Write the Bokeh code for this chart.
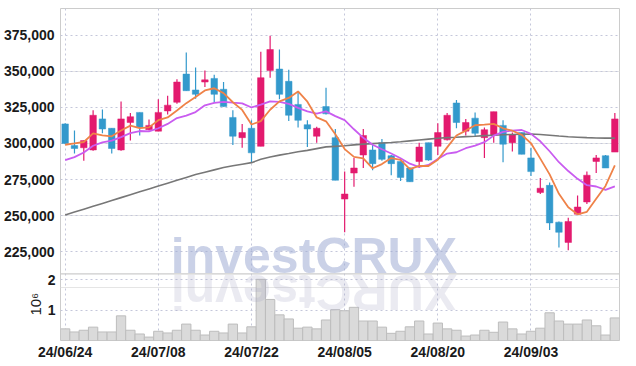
import math
from bokeh.plotting import figure
from bokeh.models import (ColumnDataSource, FixedTicker, NumeralTickFormatter, Range1d,
                          Label, Span, LinearAxis, Grid)
from bokeh.embed import file_html
from bokeh.resources import INLINE

# ---- data ----
x_tick_idx = [0, 10, 20, 30, 40, 50]
x_tick_labels = ["24/06/24", "24/07/08", "24/07/22", "24/08/05", "24/08/20", "24/09/03"]
y_ticks = [225000, 250000, 275000, 300000, 325000, 350000, 375000]
vol_ticks = [1000000, 2000000]
vol_tick_labels = ["1", "2"]
vol_unit_text = "10⁶"
vol_unit_at = 1200000

open_ = [313500, 298500, 297000, 295500, 317000, 310500, 295500, 314500, 321500, 309500,
         308500, 322500, 328500, 348000, 337000, 342500, 345000, 337500, 318000, 304000,
         310500, 298000, 350500, 351500, 343000, 327000, 313000, 305000, 325500, 304000,
         261500, 279500, 292000, 295500, 300500, 291500, 287500, 283000, 287500, 300500,
         298000, 302500, 328000, 308500, 317500, 304000, 305500, 312500, 300500, 307500,
         290000, 266000, 271000, 245500, 231500, 251000, 259500, 287500, 291500, 294000]
high = [314000, 309000, 302000, 323000, 323500, 310500, 329000, 321000, 321500, 316500,
        330500, 333000, 344500, 363000, 352500, 350500, 347500, 342500, 323000, 313500,
        316000, 363500, 374500, 365000, 351000, 335000, 316000, 311500, 338500, 310000,
        280500, 290000, 310000, 299000, 303000, 292000, 287500, 283500, 300500, 300500,
        314000, 321000, 330000, 317000, 321500, 311000, 322000, 316000, 307500, 307500,
        297000, 276000, 273000, 246000, 248500, 264000, 280500, 292000, 292000, 321000]
low = [299500, 293000, 288000, 295000, 307000, 293000, 295000, 302000, 305500, 309000,
       308500, 320000, 327500, 336500, 331000, 339000, 328500, 325500, 299000, 297000,
       286500, 298000, 345500, 330500, 315500, 311000, 297500, 300500, 320000, 274500,
       238500, 270000, 283000, 281500, 288000, 278000, 274000, 273500, 283000, 288000,
       292000, 302000, 310500, 305500, 304500, 290000, 300500, 287000, 294500, 292500,
       277500, 265000, 240000, 228000, 226000, 250500, 258000, 279500, 283000, 294000]
close = [300000, 296500, 302000, 319500, 310000, 296500, 317000, 318500, 311000, 312500,
         321500, 326500, 342500, 336500, 334000, 344000, 334000, 325500, 305000, 307500,
         293500, 345500, 365000, 334000, 319500, 316000, 310000, 310500, 320500, 274500,
         265000, 283000, 305500, 286000, 289000, 286000, 276500, 273500, 297500, 288500,
         307500, 319500, 314500, 314500, 307000, 309500, 322000, 299500, 306000, 292500,
         280500, 269000, 245000, 238500, 246000, 256000, 278000, 290000, 283000, 317000]
ma_short = [299100, 300000, 301000, 307000, 305600, 304900, 309000, 312300, 310600, 311100,
            316100, 318000, 322800, 327900, 332200, 336700, 338200, 334800, 328500, 323200,
            313100, 315400, 323300, 329100, 331500, 336000, 328900, 318000, 315300, 306300,
            296100, 290700, 289700, 282800, 285700, 289900, 288600, 282200, 284500, 284400,
            288700, 297300, 305500, 308900, 312600, 313000, 313500, 310500, 308800, 305900,
            300100, 289500, 278600, 265100, 255800, 250900, 252700, 261700, 270600, 284800]
ma_mid = [288400, 290500, 293700, 298400, 300700, 301900, 304400, 307100, 308600, 308400,
          310500, 313500, 317600, 319300, 321700, 326400, 328100, 328800, 328200, 327700,
          324900, 326800, 329100, 328800, 327400, 324600, 322200, 320700, 322200, 318900,
          316100, 309800, 303900, 299100, 296000, 293000, 289700, 286000, 283700, 285100,
          289300, 293000, 293900, 296700, 298500, 300900, 305400, 308000, 308900, 309300,
          306600, 301500, 294600, 287000, 280900, 275500, 271100, 270200, 267900, 270300]
ma_long = [250500, 252500, 254500, 256500, 258500, 260500, 262500, 264500, 266500, 268500,
           270500, 272500, 274500, 276500, 278500, 280100, 281700, 283300, 284500, 285600,
           286700, 289000, 290600, 291900, 293000, 294200, 295200, 296400, 297600, 298000,
           298400, 299000, 299500, 299900, 300300, 300700, 301200, 301800, 302400, 303000,
           303600, 304000, 304300, 304700, 305000, 305400, 305700, 306000, 306200, 306400,
           306500, 306200, 305700, 305100, 304600, 304300, 304000, 303800, 303700, 303700]
volume = [384000, 282000, 339000, 441000, 282000, 282000, 814000, 339000, 215000, 113000,
          305000, 249000, 339000, 542000, 339000, 181000, 305000, 249000, 542000, 249000,
          452000, 2020000, 1356000, 847000, 712000, 407000, 441000, 384000, 678000, 1017000,
          983000, 1096000, 644000, 644000, 441000, 237000, 305000, 452000, 644000, 215000,
          576000, 384000, 339000, 147000, 181000, 339000, 271000, 610000, 384000, 215000,
          305000, 407000, 915000, 644000, 542000, 542000, 678000, 486000, 181000, 746000]

UP = "#e31a6e"
DOWN = "#3399cc"
FONT = "Liberation Sans"
GRID = "#c4c7da"
TXT = "#1a1a1a"
EDGE = "#cccccc"

# panel geometry: price panel on top, volume panel below, in one frame
PRICE_TOP = 393400        # price at top of frame
PRICE_SPLIT = 209700      # price at the price/volume boundary
VOL_TOP = 2200000         # volume at the boundary
PANEL_RATIO = 66 / 263    # volume panel height / price panel height

price_start = PRICE_SPLIT - (PRICE_TOP - PRICE_SPLIT) * PANEL_RATIO
vol_end = VOL_TOP * (1 + 1 / PANEL_RATIO)

idx = list(range(len(close)))
colors = [UP if c >= o else DOWN for o, c in zip(open_, close)]
src = ColumnDataSource(dict(
    x=idx, open=open_, high=high, low=low, close=close,
    top=[max(o, c) for o, c in zip(open_, close)],
    bottom=[min(o, c) for o, c in zip(open_, close)],
    color=colors, volume=volume,
    ma_short=ma_short, ma_mid=ma_mid, ma_long=ma_long,
))

xr = Range1d(-0.5, len(close) - 0.5)
yr = Range1d(price_start, PRICE_TOP)

p = figure(width=620, height=362, x_range=xr, y_range=yr, y_axis_location=None,
           output_backend="svg", toolbar_location=None,
           min_border_left=55, min_border_right=1, min_border_top=8, min_border_bottom=22)
p.extra_y_ranges = {"vol": Range1d(0, vol_end)}
p.outline_line_color = EDGE

# left axes, from the frame outwards: volume ticks, volume unit, price
vol_axis = LinearAxis(y_range_name="vol", ticker=FixedTicker(ticks=vol_ticks),
                      major_label_overrides=dict(zip(vol_ticks, vol_tick_labels)))
unit_axis = LinearAxis(y_range_name="vol", ticker=FixedTicker(ticks=[vol_unit_at]),
                       major_label_overrides={vol_unit_at: vol_unit_text},
                       major_label_orientation="vertical")
price_axis = LinearAxis(ticker=FixedTicker(ticks=y_ticks),
                        formatter=NumeralTickFormatter(format="0,0"))
for ax in (vol_axis, unit_axis, price_axis):
    ax.axis_line_color = None
    ax.major_tick_line_color = None
    ax.minor_tick_line_color = None
    ax.major_tick_out = 0
    ax.major_tick_in = 0
    ax.major_label_text_font = FONT
    ax.major_label_text_font_style = "bold"
    ax.major_label_text_font_size = "14px"
    ax.major_label_text_color = TXT
vol_axis.major_label_standoff = 5
unit_axis.major_label_standoff = 0
unit_axis.major_label_text_font_style = "normal"
unit_axis.major_label_text_font_size = "15px"
price_axis.major_label_standoff = -30
p.add_layout(vol_axis, "left")
p.add_layout(unit_axis, "left")
p.add_layout(price_axis, "left")

p.xaxis.ticker = FixedTicker(ticks=x_tick_idx)
p.xaxis.major_label_overrides = dict(zip(x_tick_idx, x_tick_labels))
p.xaxis.axis_line_color = None
p.xaxis.major_tick_line_color = None
p.xaxis.minor_tick_line_color = None
p.xaxis.major_tick_out = 0
p.xaxis.major_tick_in = 0
p.xaxis.major_label_standoff = 3
p.xaxis.major_label_text_font = FONT
p.xaxis.major_label_text_font_style = "bold"
p.xaxis.major_label_text_font_size = "14px"
p.xaxis.major_label_text_color = TXT

# grid
p.xgrid.ticker = FixedTicker(ticks=x_tick_idx)
price_grid = Grid(dimension=1, ticker=FixedTicker(ticks=y_ticks))
vol_grid = Grid(dimension=1, y_range_name="vol", ticker=FixedTicker(ticks=vol_ticks))
p.add_layout(price_grid)
p.add_layout(vol_grid)
for g in (p.xgrid[0], price_grid, vol_grid):
    g.grid_line_color = GRID
    g.grid_line_dash = "2 3"
    g.grid_line_width = 1

# volume bars
p.vbar(x="x", width=1.0, top="volume", bottom=0, fill_color="#dadada",
       line_color="#bdbdbd", line_width=1, source=src, y_range_name="vol")

# panel separator
p.add_layout(Span(location=PRICE_SPLIT, dimension="width", line_color=EDGE, line_width=1.2))

# candles
p.segment(x0="x", y0="high", x1="x", y1="low", color="color", line_width=1.2, source=src)
p.vbar(x="x", width=0.7, top="top", bottom="bottom", fill_color="color",
       line_color="color", line_width=0.5, source=src)

# moving averages
p.line("x", "ma_long", line_color="#777777", line_width=1.6, source=src)
p.line("x", "ma_mid", line_color="#c95cf0", line_width=1.8, source=src)
p.line("x", "ma_short", line_color="#ef8248", line_width=1.8, source=src)

# watermark and its reflection (sitting on / hanging from the panel boundary)
p.add_layout(Label(x=26.7, y=PRICE_SPLIT, y_offset=18, text="investCRUX",
                   text_align="center", text_baseline="alphabetic", text_font=FONT,
                   text_font_style="bold", text_font_size="50px",
                   text_color="#9facd3", text_alpha=0.55))
p.add_layout(Label(x=26.7, y=PRICE_SPLIT, y_offset=-18, text="XURCtsevni", angle=math.pi,
                   text_align="center", text_baseline="alphabetic",
                   text_font=FONT, text_font_style="bold",
                   text_font_size="50px", text_color="#a0a0c0", text_alpha=0.22))

open("out.html", "w").write(file_html(p, INLINE))
